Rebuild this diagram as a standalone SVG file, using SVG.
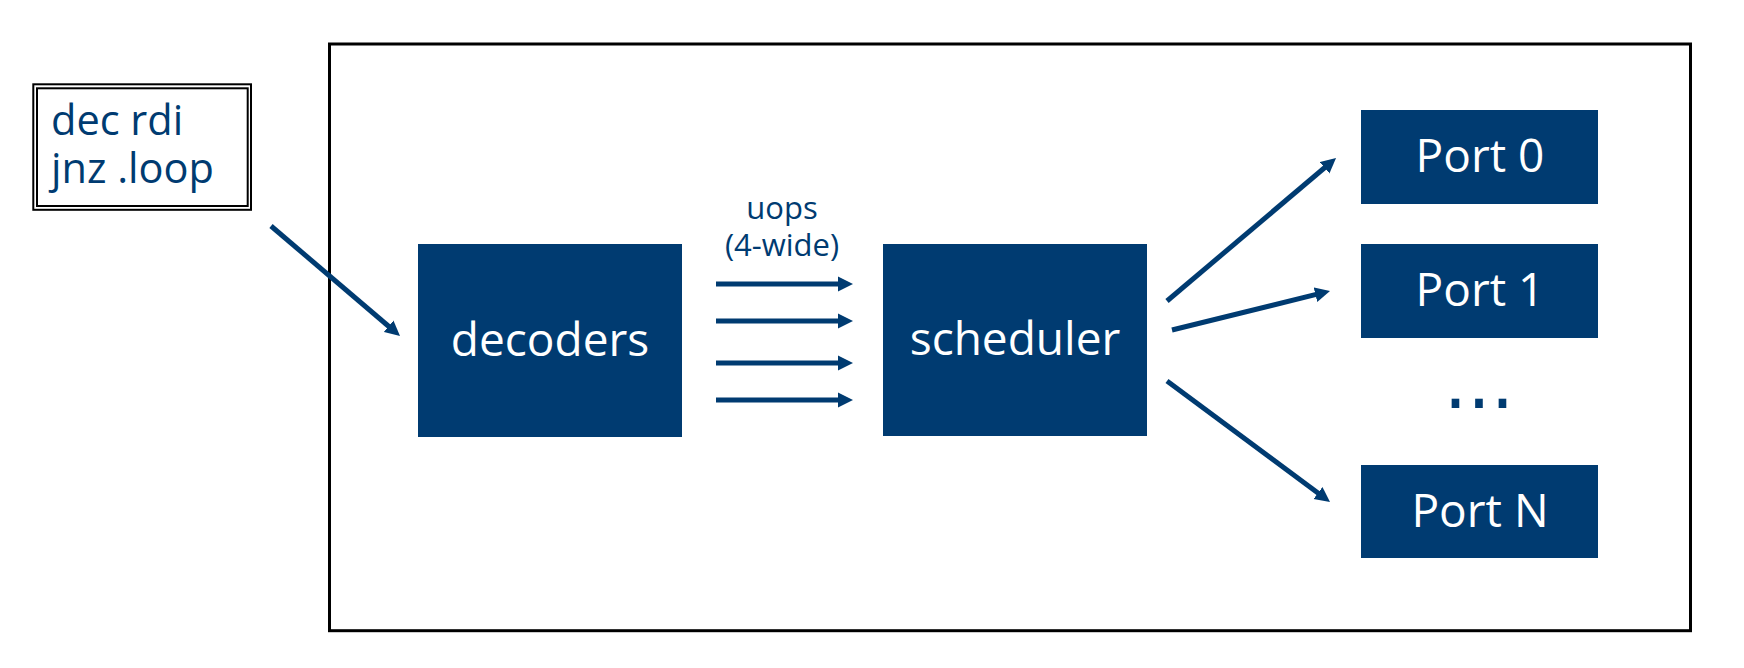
<svg xmlns="http://www.w3.org/2000/svg" width="1744" height="668" viewBox="0 0 1744 668">
<style>
.blk{fill:#003B71}
.wt{fill:#ffffff;font-family:"Open Sans","Noto Sans",sans-serif;font-size:46px;text-anchor:middle}
.bt{fill:#003B71;font-family:"Open Sans","Noto Sans",sans-serif}
.con{stroke:#003B71;stroke-width:5;fill:none;marker-end:url(#ah)}
</style>
<defs>
<marker id="ah" markerUnits="userSpaceOnUse" markerWidth="16" markerHeight="16" viewBox="0 0 16 16" refX="5" refY="8" orient="auto">
<path d="M0,0.5 L15,8 L0,15.5 z" fill="#003B71"/>
</marker>
</defs>
<rect width="1744" height="668" fill="#ffffff"/>
<g id="frame">
<rect x="329.5" y="44" width="1361" height="586.7" fill="none" stroke="#000" stroke-width="3"/>
</g>
<g id="code">
<rect x="33.3" y="84.3" width="217.7" height="125.5" fill="none" stroke="#000" stroke-width="2"/>
<rect x="37" y="88.3" width="210.7" height="117.7" fill="none" stroke="#000" stroke-width="2"/>
<text class="bt" font-size="41.5"><tspan x="51" y="135">dec rdi</tspan><tspan x="51" y="183">jnz .loop</tspan></text>
</g>
<g id="decoders">
<rect class="blk" x="418" y="244" width="264" height="193"/>
<text class="wt" x="550" y="356">decoders</text>
</g>
<g id="scheduler">
<rect class="blk" x="883" y="244" width="264" height="192"/>
<text class="wt" x="1015" y="355">scheduler</text>
</g>
<g id="port0">
<rect class="blk" x="1361" y="110" width="237" height="94"/>
<text class="wt" x="1480" y="172">Port 0</text>
</g>
<g id="port1">
<rect class="blk" x="1361" y="244" width="237" height="94"/>
<text class="wt" x="1480" y="306">Port 1</text>
</g>
<g id="portN">
<rect class="blk" x="1361" y="465" width="237" height="93"/>
<text class="wt" x="1480" y="527">Port N</text>
</g>
<g id="ellipsis">
<text x="1479" y="408" fill="#003B71" font-family="DejaVu Sans,sans-serif" font-size="74" text-anchor="middle">...</text>
</g>
<g id="uops-label">
<text class="bt" font-size="31" text-anchor="middle"><tspan x="782" y="219">uops</tspan><tspan x="782" y="256">(4-wide)</tspan></text>
</g>
<g id="connectors">
<line class="con" x1="271" y1="226" x2="392.4" y2="329.5"/>
<line class="con" x1="716" y1="284" x2="843" y2="284"/>
<line class="con" x1="716" y1="321" x2="843" y2="321"/>
<line class="con" x1="716" y1="363" x2="843" y2="363"/>
<line class="con" x1="716" y1="400" x2="843" y2="400"/>
<line class="con" x1="1167" y1="301" x2="1328.4" y2="164.5"/>
<line class="con" x1="1172" y1="330" x2="1320.3" y2="293.4"/>
<line class="con" x1="1167" y1="381" x2="1322" y2="496"/>
</g>
</svg>
